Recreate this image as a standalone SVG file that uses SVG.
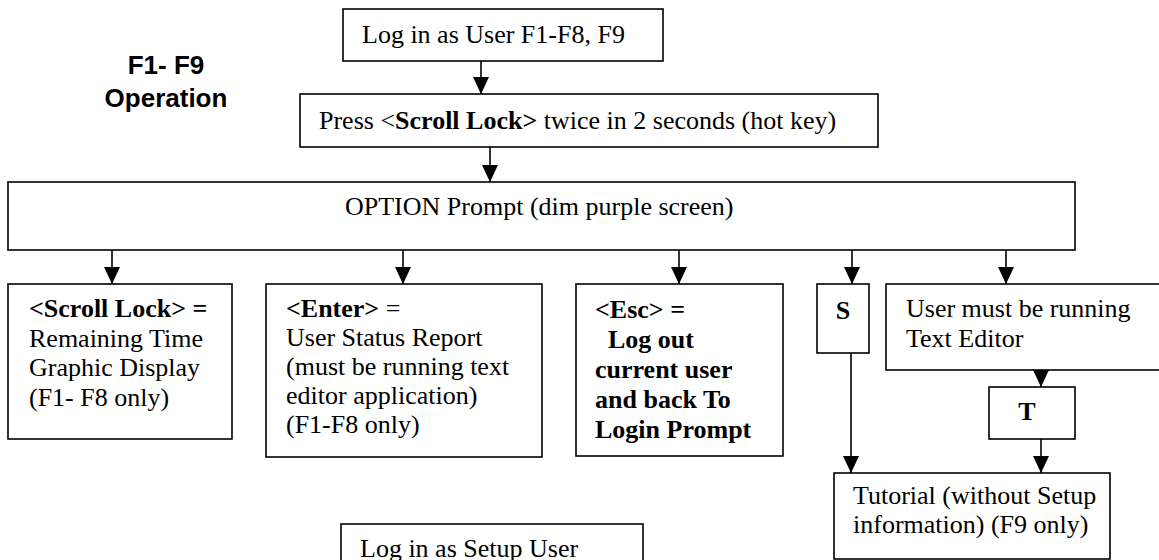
<svg xmlns="http://www.w3.org/2000/svg" width="1159" height="560" viewBox="0 0 1159 560">
<style>
.box{fill:#fff;stroke:#000;stroke-width:1.6}
.t{font-family:"Liberation Serif","Times New Roman",serif;font-size:26px;fill:#000}
.b{font-weight:bold}
.title{font-family:"Liberation Sans",Arial,sans-serif;font-size:26px;font-weight:bold;fill:#000}
.c{stroke:#000;stroke-width:1.6;fill:none;marker-end:url(#ah)}
</style>
<defs>
<marker id="ah" markerUnits="userSpaceOnUse" markerWidth="17" markerHeight="16" viewBox="0 0 17 16" refX="17" refY="8" orient="auto">
<path d="M0,0 L17,8 L0,16 z" fill="#000"/>
</marker>
</defs>
<rect width="1159" height="560" fill="#fff"/>
<g id="title">
<text class="title" x="166" y="74" text-anchor="middle">F1- F9</text>
<text class="title" x="166" y="107" text-anchor="middle">Operation</text>
</g>
<g id="connectors">
<line class="c" x1="481" y1="61" x2="481" y2="94"/>
<line class="c" x1="490" y1="147" x2="490" y2="182"/>
<line class="c" x1="112" y1="250" x2="112" y2="284"/>
<line class="c" x1="403" y1="250" x2="403" y2="284"/>
<line class="c" x1="679" y1="250" x2="679" y2="284"/>
<line class="c" x1="852" y1="250" x2="852" y2="284"/>
<line class="c" x1="1006" y1="250" x2="1006" y2="284"/>
<line class="c" x1="851" y1="353" x2="851" y2="473"/>
<line class="c" x1="1041" y1="370" x2="1041" y2="387"/>
<line class="c" x1="1041" y1="439" x2="1041" y2="473"/>
</g>
<g id="login-user">
<rect class="box" x="343" y="9" width="320" height="52"/>
<text class="t" x="362" y="43">Log in as User F1-F8, F9</text>
</g>
<g id="hotkey">
<rect class="box" x="300" y="94" width="578" height="53"/>
<text class="t" x="319" y="129">Press &lt;<tspan class="b">Scroll Lock&gt;</tspan> twice in 2 seconds (hot key)</text>
</g>
<g id="option">
<rect class="box" x="8" y="182" width="1067" height="68"/>
<text class="t" x="345" y="215">OPTION Prompt (dim purple screen)</text>
</g>
<g id="scroll-lock">
<rect class="box" x="8" y="284" width="224" height="155"/>
<text class="t" x="29" y="317"><tspan class="b">&lt;Scroll Lock&gt; =</tspan><tspan x="29" dy="29.5">Remaining Time</tspan><tspan x="29" dy="29.5">Graphic Display</tspan><tspan x="29" dy="29.5">(F1- F8 only)</tspan></text>
</g>
<g id="enter">
<rect class="box" x="266" y="284" width="276" height="173"/>
<text class="t" x="286" y="317"><tspan class="b">&lt;Enter&gt;</tspan> =<tspan x="286" dy="29">User Status Report</tspan><tspan x="286" dy="29">(must be running text</tspan><tspan x="286" dy="29">editor application)</tspan><tspan x="286" dy="29">(F1-F8 only)</tspan></text>
</g>
<g id="esc">
<rect class="box" x="576" y="284" width="207" height="172"/>
<text class="t b" x="595" y="318">&lt;Esc&gt; =<tspan x="608" dy="30">Log out</tspan><tspan x="595" dy="30">current user</tspan><tspan x="595" dy="30">and back To</tspan><tspan x="595" dy="30">Login Prompt</tspan></text>
</g>
<g id="s">
<rect class="box" x="817" y="284" width="52" height="69"/>
<text class="t b" x="843" y="319" text-anchor="middle">S</text>
</g>
<g id="text-editor">
<rect class="box" x="886" y="284" width="290" height="86"/>
<text class="t" x="906" y="317">User must be running<tspan x="906" dy="30">Text Editor</tspan></text>
</g>
<g id="t">
<rect class="box" x="989" y="387" width="86" height="52"/>
<text class="t b" x="1027" y="420" text-anchor="middle">T</text>
</g>
<g id="tutorial">
<rect class="box" x="834" y="473" width="276" height="86"/>
<text class="t" x="853" y="504">Tutorial (without Setup<tspan x="853" dy="29">information) (F9 only)</tspan></text>
</g>
<g id="login-setup">
<rect class="box" x="341" y="524" width="302" height="50"/>
<text class="t" x="360" y="557">Log in as Setup User</text>
</g>
</svg>
